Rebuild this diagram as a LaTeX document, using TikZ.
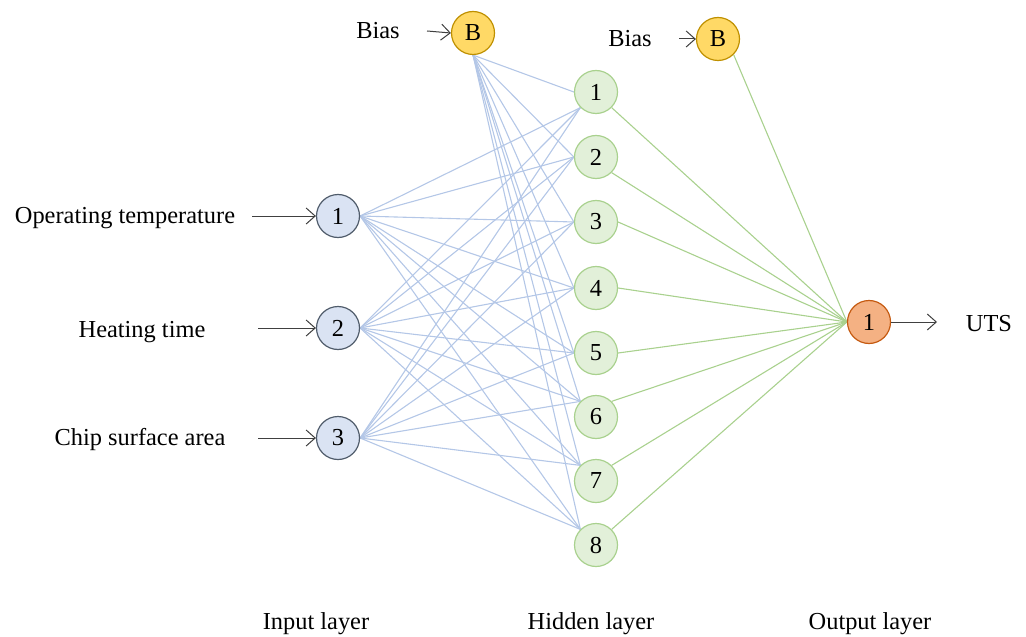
\documentclass[tikz,border=0pt]{standalone}
\usepackage{fontspec}
\setmainfont{Liberation Serif}
\usetikzlibrary{arrows.meta,backgrounds}
\definecolor{inFill}{HTML}{DAE3F3}
\definecolor{inDraw}{HTML}{505C6B}
\definecolor{biasFill}{HTML}{FFD966}
\definecolor{biasDraw}{HTML}{BF9000}
\definecolor{hidFill}{HTML}{E2F0D9}
\definecolor{hidDraw}{HTML}{A9D18E}
\definecolor{outFill}{HTML}{F4B183}
\definecolor{outDraw}{HTML}{C55A11}
\definecolor{blueLine}{HTML}{B4C7E7}
\definecolor{greenLine}{HTML}{A9D18E}
\tikzset{
  neuron/.style={circle, minimum size=21.5pt, inner sep=0pt, line width=0.6pt, font=\fontsize{12.2}{14}\selectfont},
  innode/.style={neuron, fill=inFill, draw=inDraw},
  biasnode/.style={neuron, fill=biasFill, draw=biasDraw},
  hidnode/.style={neuron, fill=hidFill, draw=hidDraw},
  outnode/.style={neuron, fill=outFill, draw=outDraw},
  lbl/.style={font=\fontsize{12.2}{14}\selectfont, inner sep=0pt, anchor=base},
  bluew/.style={draw=blueLine, line width=0.55pt},
  greenw/.style={draw=greenLine, line width=0.55pt},
  feed/.style={draw=black!75, line width=0.5pt, -{Straight Barb[length=4.5pt,width=8pt]}}
}
\begin{document}
\begin{tikzpicture}[x=0.5pt,y=-0.5pt]
\useasboundingbox (0,0) rectangle (1026,636);
% labels
\node[lbl] (tOT) at (125,223) {Operating temperature};
\node[lbl] (tHT) at (142,337) {Heating time};
\node[lbl] (tCS) at (140,445) {Chip surface area};
\node[lbl] (tB1) at (378,39) {Bias};
\node[lbl] (tB2) at (630,47) {Bias};
\node[lbl] (tUTS) at (989,331) {UTS};
\node[lbl] (tIn) at (316,629) {Input layer};
\node[lbl] (tHid) at (591,629) {Hidden layer};
\node[lbl] (tOut) at (870,629) {Output layer};
% free ends
\coordinate (aOT) at (252,216);
\coordinate (aHT) at (258,328);
\coordinate (aCS) at (258,438);
\coordinate (aB1) at (427,31);
\coordinate (aB2) at (679,39);
\coordinate (aUTS) at (937,322);
% nodes
\node[innode] (i1) at (338,216) {1};
\node[innode] (i2) at (338,328) {2};
\node[innode] (i3) at (338,438) {3};
\node[biasnode] (b1) at (473,33) {B};
\node[biasnode] (b2) at (718,39) {B};
\node[outnode] (o) at (869,322) {1};
\foreach \y [count=\k] in {92,157,222,288,353,417,481,545} {
  \node[hidnode] (h\k) at (596,\y) {\k};
}
% edges
\begin{pgfonlayer}{background}
\foreach \k/\a in {1/south west,2/west,3/west,4/west,5/west,6/north west,7/north west,8/north west} {
  \foreach \i in {1,2,3} {
    \draw[bluew] (i\i.east) -- (h\k.\a);
  }
}
\foreach \k/\a in {1/west,2/west,3/west,4/west,5/west,6/north west,7/north west,8/north west} {
  \draw[bluew] (b1.south) -- (h\k.\a);
}
\foreach \k/\a in {1/south east,2/south east,3/east,4/east,5/east,6/north east,7/north east,8/north east} {
  \draw[greenw] (h\k.\a) -- (o.west);
}
\draw[greenw] (b2.south east) -- (o.west);
\end{pgfonlayer}
% input arrows
\draw[feed] (aOT) -- (i1.west);
\draw[feed] (aHT) -- (i2.west);
\draw[feed] (aCS) -- (i3.west);
\draw[feed] (aB1) -- (b1.west);
\draw[feed] (aB2) -- (b2.west);
\draw[feed] (o.east) -- (aUTS);
\end{tikzpicture}
\end{document}
